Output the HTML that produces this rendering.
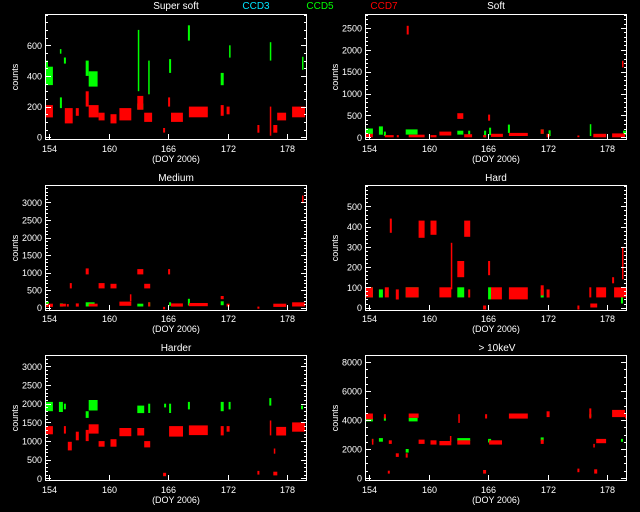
<!DOCTYPE html>
<html><head><meta charset="utf-8"><style>
html,body{margin:0;padding:0;background:#000;}
svg{display:block;}
text{font-family:"Liberation Sans",sans-serif;fill:#fff;}
</style></head><body>
<svg id="chart" width="640" height="512" viewBox="0 0 640 512" xmlns="http://www.w3.org/2000/svg">
<rect x="0" y="0" width="640" height="512" fill="#000"/>
<text x="176" y="9" font-size="10" text-anchor="middle">Super soft</text>
<text x="256" y="9" font-size="10" text-anchor="middle" style="fill:#00e5ff">CCD3</text>
<text x="320" y="9" font-size="10" text-anchor="middle" style="fill:#00ff00">CCD5</text>
<text x="384" y="9" font-size="10" text-anchor="middle" style="fill:#ff0000">CCD7</text>
<text x="496" y="9" font-size="10" text-anchor="middle">Soft</text>
<text x="176" y="181" font-size="10" text-anchor="middle">Medium</text>
<text x="496" y="181" font-size="10" text-anchor="middle">Hard</text>
<text x="176" y="351" font-size="10" text-anchor="middle">Harder</text>
<text x="497" y="351" font-size="10" text-anchor="middle">&gt; 10keV</text>
</svg>
<script>
// shared x-axis ticks
const xTicks = [154, 160, 166, 172, 178];
const xDomain = [153.6, 180.0];

// Each segment: [dayStart, dayEnd, countLow, countHigh]
const ssRed = [[153.7,154.4,130,210],[155.6,156.4,90,190],[156.7,157.0,140,190],[157.7,158.0,200,300],[158.0,159.0,130,210],[159.0,159.6,110,160],[160.2,160.8,90,150],[161.1,162.3,110,190],[162.9,163.5,180,270],[163.6,164.4,100,160],[165.5,165.7,30,60],[166.0,166.2,200,260],[166.3,167.5,100,160],[168.1,170.0,130,200],[171.3,171.6,140,210],[171.9,172.2,150,200],[175.0,175.2,30,80],[176.25,176.35,10,200],[176.6,177.0,30,80],[177.0,177.9,110,160],[178.5,179.8,130,200]];
const ssGreen = [[153.7,154.4,340,460],[153.7,153.9,460,500],[155.1,155.3,190,260],[155.1,155.2,545,575],[155.5,155.7,480,520],[157.7,158.0,400,500],[158.0,158.9,330,430],[162.9,163.5,180,220],[162.95,163.05,300,700],[164.0,164.1,280,500],[166.1,166.3,420,510],[168.0,168.2,630,730],[171.3,171.6,340,420],[172.15,172.25,520,600],[176.25,176.35,500,620],[179.5,179.6,440,525]];

const softRed = [[153.7,154.4,0,80],[155.6,156.5,0,50],[156.8,157.0,0,50],[157.8,158.0,2350,2550],[158.0,159.6,0,60],[160.2,160.8,0,50],[161.1,162.3,40,130],[162.9,163.5,420,550],[163.6,164.4,0,70],[165.5,165.8,0,50],[166.0,166.2,380,520],[166.3,167.5,10,80],[168.1,170.0,30,100],[171.3,171.6,80,180],[171.9,172.2,0,80],[175.0,175.2,0,40],[176.6,177.9,0,80],[178.5,179.8,0,90],[179.5,179.6,1600,1750]];
const softGreen = [[153.7,154.4,60,200],[155.0,155.4,60,250],[155.5,155.7,30,130],[157.7,158.9,60,180],[162.9,163.5,60,150],[164.0,164.2,50,150],[165.6,165.8,0,150],[166.1,166.3,50,220],[168.0,168.2,100,290],[171.3,171.6,80,180],[172.1,172.3,30,160],[176.25,176.35,30,300],[179.6,180.0,50,150]];

const medRed = [[153.7,154.4,20,110],[155.1,155.7,30,110],[155.8,156.0,30,100],[156.1,156.3,550,700],[156.7,157.0,30,120],[157.7,158.0,950,1120],[158.0,158.9,30,110],[159.0,159.6,550,700],[160.2,160.8,550,680],[161.1,162.3,50,170],[162.15,162.25,180,380],[162.9,163.5,950,1100],[163.6,164.2,550,680],[164.0,164.2,30,150],[165.5,165.7,-50,20],[166.0,166.2,950,1100],[166.3,167.5,30,120],[168.1,170.0,40,130],[171.3,171.6,240,330],[171.9,172.2,30,110],[175.0,175.2,-30,30],[176.6,177.9,20,110],[178.5,179.8,30,150],[179.5,179.6,2980,3200]];
const medGreen = [[153.7,154.0,20,170],[155.1,155.4,30,120],[157.7,158.6,30,150],[162.9,163.5,30,110],[164.0,164.2,30,150],[166.1,166.3,50,150],[168.0,168.2,60,250],[171.3,171.6,70,180]];

const hardRed = [[153.7,154.4,50,100],[155.6,156.0,50,100],[156.1,156.3,370,440],[156.7,157.0,40,90],[157.7,159.0,50,100],[159.0,159.6,345,430],[160.2,160.8,360,430],[161.1,162.3,50,100],[162.25,162.35,90,320],[162.9,163.6,150,230],[163.6,164.2,350,430],[164.0,164.2,50,90],[165.5,165.8,-10,10],[166.0,166.2,160,230],[166.3,167.4,40,100],[168.1,170.0,40,100],[171.3,171.6,60,110],[171.9,172.2,50,90],[175.0,175.2,-10,10],[176.2,176.4,50,100],[176.3,177.0,0,20],[176.9,177.9,50,100],[178.5,178.7,120,150],[178.7,179.6,50,100],[179.5,179.6,140,300],[179.6,180.0,50,100]];
const hardGreen = [[153.7,154.4,50,100],[155.0,155.4,50,90],[157.7,159.0,50,100],[162.9,163.6,50,100],[166.0,166.3,40,100],[171.3,171.6,50,90],[179.4,179.6,20,100]];

const harderRed = [[153.7,154.4,1180,1400],[155.5,155.7,1200,1400],[155.9,156.3,750,980],[156.7,157.0,1020,1250],[157.7,158.0,1000,1300],[158.0,159.0,1200,1450],[159.0,159.6,850,1000],[160.2,160.8,850,1050],[161.1,162.3,1130,1350],[162.9,163.6,1150,1350],[163.6,164.2,830,1000],[165.5,165.8,60,150],[166.1,167.5,1120,1400],[168.1,170.0,1160,1420],[171.3,171.6,1150,1400],[171.9,172.2,1250,1400],[175.0,175.2,100,200],[176.25,176.35,1150,1550],[176.6,177.0,80,180],[176.65,176.75,660,800],[176.9,177.9,1150,1380],[178.5,179.8,1250,1500]];
const harderGreen = [[153.7,154.4,1800,2050],[155.0,155.4,1780,2050],[155.5,155.7,1850,2000],[157.7,158.0,1620,1800],[158.0,158.9,1820,2100],[162.9,163.6,1750,1950],[164.0,164.2,1750,2000],[165.6,165.8,1900,2000],[166.1,166.3,1750,2000],[168.0,168.2,1850,2050],[171.3,171.6,1800,2050],[172.1,172.3,1850,2050],[176.2,176.4,1950,2150],[179.4,179.6,1850,1950],[179.9,180.0,1900,2000]];

const tenRed = [[153.7,154.4,4050,4450],[154.3,154.4,2300,2700],[155.5,155.7,4100,4400],[156.0,156.3,2350,2600],[155.9,156.1,300,500],[156.7,157.0,1450,1700],[157.7,157.9,1400,1700],[158.0,159.0,4150,4450],[159.0,159.6,2350,2650],[160.2,160.8,2300,2600],[161.1,162.3,2250,2550],[162.15,162.25,2500,2900],[163.0,163.1,3800,4400],[162.9,164.2,2300,2600],[165.5,165.8,300,550],[165.7,165.9,4100,4400],[166.1,167.4,2300,2600],[168.1,170.0,4100,4450],[171.3,171.6,2350,2650],[171.9,172.2,4200,4600],[175.0,175.2,400,650],[176.2,176.4,4100,4800],[176.6,176.7,2100,2350],[176.9,177.9,2400,2700],[176.7,177.0,300,600],[178.5,179.8,4200,4700],[179.8,180.0,4100,4400]];
const tenGreen = [[153.7,154.4,3900,4150],[154.3,154.4,2500,2700],[155.0,155.4,2500,2750],[155.5,155.7,3950,4200],[157.7,158.0,1750,2000],[158.0,158.9,3900,4150],[162.9,164.2,2550,2750],[166.0,166.3,2450,2700],[171.3,171.6,2550,2800],[176.2,176.4,4200,4400],[179.4,179.6,2500,2700]];

// y tick labels per panel
const ssTicks = [0,200,400,600];
const softTicks = [0,500,1000,1500,2000,2500];
const medTicks = [0,500,1000,1500,2000,2500,3000];
const hardTicks = [0,100,200,300,400,500];
const harderTicks = [0,500,1000,1500,2000,2500,3000];
const tenTicks = [0,2000,4000,6000,8000];

const NS = 'http://www.w3.org/2000/svg';
const svg = document.getElementById('chart');
function mk(tag, attrs, parent) {
  const e = document.createElementNS(NS, tag);
  for (const k in attrs) e.setAttribute(k, attrs[k]);
  (parent || svg).appendChild(e);
  return e;
}

const panels = [
  {key:'super-soft', box:[45,14,307,140], y:[-18,804], ticks:ssTicks, minor:50, red:ssRed, green:ssGreen, lab:152, doy:162},
  {key:'soft', box:[365,14,627,140], y:[-62,2820], ticks:softTicks, minor:100, red:softRed, green:softGreen, lab:152, doy:162},
  {key:'medium', box:[45,185,307,311], y:[-97,3499], ticks:medTicks, minor:100, red:medRed, green:medGreen, lab:322, doy:332},
  {key:'hard', box:[365,185,627,311], y:[-17,606], ticks:hardTicks, minor:20, red:hardRed, green:hardGreen, lab:322, doy:332},
  {key:'harder', box:[45,355,307,481], y:[-70,3305], ticks:harderTicks, minor:100, red:harderRed, green:harderGreen, lab:493, doy:503},
  {key:'10kev', box:[365,355,627,481], y:[-207,8483], ticks:tenTicks, minor:500, red:tenRed, green:tenGreen, lab:493, doy:503}
];

panels.forEach(p => {
  const [x0,y0,x1,y1] = p.box;
  const xs = d => x0 + (d - xDomain[0]) / (xDomain[1]-xDomain[0]) * (x1-x0);
  const ys = v => y1 - (v - p.y[0]) / (p.y[1]-p.y[0]) * (y1-y0);
  const g = mk('g', {});
  
  
  const clipId = 'clip-' + p.key;
  const cp = mk('clipPath', {id: clipId}, g);
  mk('rect', {x:x0, y:y0, width:x1-x0, height:y1-y0}, cp);
  const marks = mk('g', {'clip-path':'url(#'+clipId+')'}, g);
  
  
  [[p.green,'#00ff00','ccd5'],[p.red,'#ff0000','ccd7']].forEach(([arr,col,nm]) => {
    arr.forEach(s => {
      const xa = xs(s[0]), xb = xs(s[1]);
      const ya = ys(s[3]), yb = ys(s[2]);
      const r = mk('rect', {x:xa.toFixed(1), y:ya.toFixed(1), width:Math.max(1.5,xb-xa).toFixed(1), height:Math.max(1.5,yb-ya).toFixed(1), fill:col}, marks);
      
      
    });
  });
  const frame = mk('rect', {x:x0+0.5, y:y0+0.5, width:x1-x0-1, height:y1-y0-1, fill:'none', stroke:'#fff', 'stroke-width':1}, g);
  
  
  // y ticks
  const maxT = p.ticks[p.ticks.length-1];
  for (let v = 0; v <= p.y[1]; v += p.minor) {
    const yy = Math.round(ys(v)) + 0.5;
    const major = p.ticks.indexOf(v) >= 0;
    const L = major ? 6 : 3;
    mk('line', {x1:x0, y1:yy, x2:x0+L, y2:yy, stroke:'#fff', 'stroke-width':1}, g);
    mk('line', {x1:x1, y1:yy, x2:x1-L, y2:yy, stroke:'#fff', 'stroke-width':1}, g);
  }
  p.ticks.forEach(v => {
    const t = mk('text', {x:x0-3, y:(ys(v)+3.5).toFixed(1), 'font-size':9, 'text-anchor':'end'}, g);
    t.textContent = v;
    
    
  });
  // x ticks
  xTicks.forEach(d => {
    const xx = Math.round(xs(d)) + 0.5;
    mk('line', {x1:xx, y1:y1, x2:xx, y2:y1-6, stroke:'#fff', 'stroke-width':1}, g);
    const t = mk('text', {x:xx, y:p.lab, 'font-size':9, 'text-anchor':'middle'}, g);
    t.textContent = d;
    
    
  });
  const xt = mk('text', {x:(x0+x1)/2 - 0, y:p.doy, 'font-size':9, 'text-anchor':'middle'}, g);
  xt.textContent = '(DOY 2006)';
  
  
  const cy = (y0+y1)/2;
  const cx = x0 - 27;
  const yt = mk('text', {x:cx, y:cy, 'font-size':9, 'text-anchor':'middle', transform:'rotate(-90 '+cx+' '+cy+')'}, g);
  yt.textContent = 'counts';
  
  
});
</script>
</body></html>
